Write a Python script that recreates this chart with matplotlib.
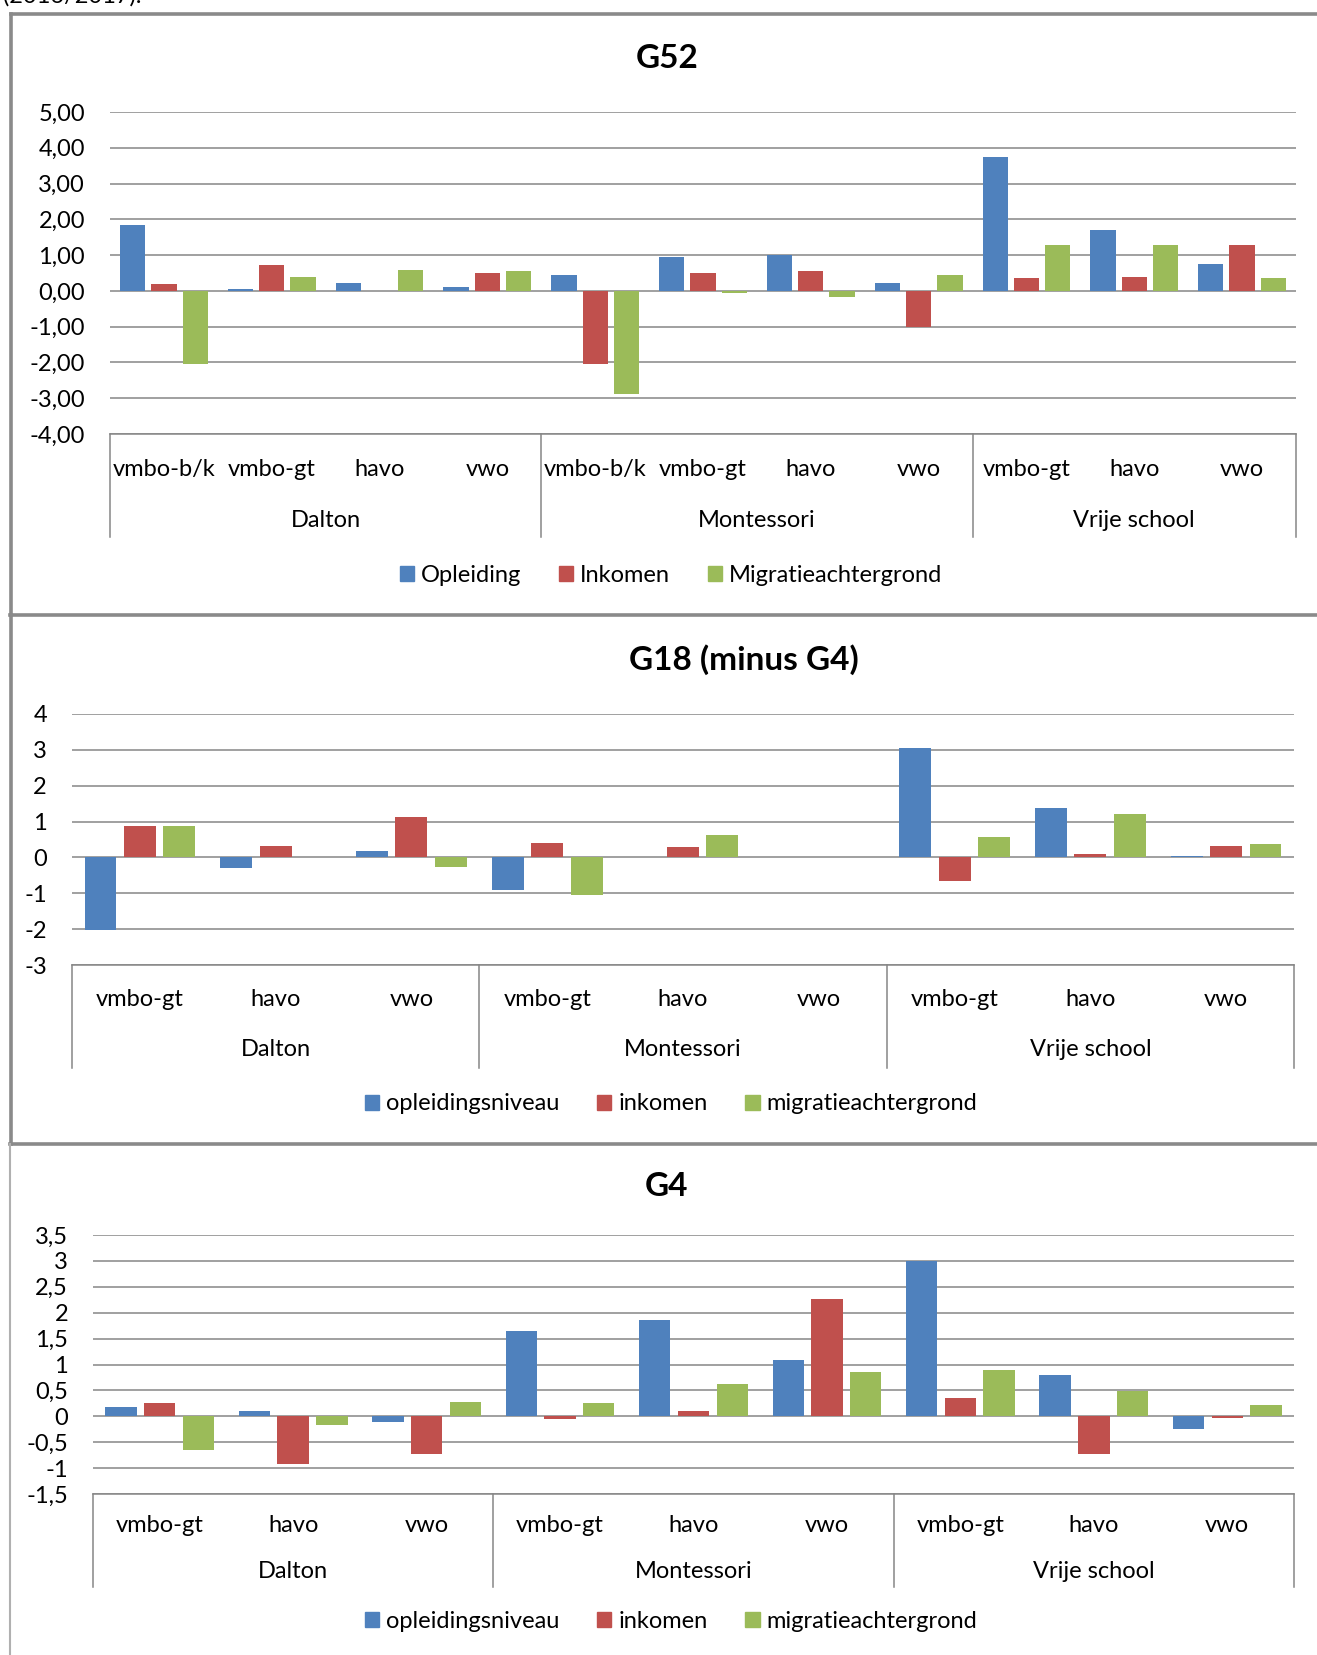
import numpy as np
import matplotlib
matplotlib.use("Agg")
import matplotlib.pyplot as plt
from matplotlib.lines import Line2D
from matplotlib.patches import Patch

plt.rcParams['font.family'] = ['Lato', 'DejaVu Sans']

# data
g52_niveaus = ["vmbo-b/k", "vmbo-gt", "havo", "vwo",
               "vmbo-b/k", "vmbo-gt", "havo", "vwo",
               "vmbo-gt", "havo", "vwo"]
g52_groepen = [("Dalton", 4), ("Montessori", 4), ("Vrije school", 3)]
g52_opleiding = [1.83, 0.04, 0.23, 0.12, 0.45, 0.95, 0.99, 0.23, 3.73, 1.70, 0.76]
g52_inkomen = [0.20, 0.73, 0.00, 0.49, -2.05, 0.49, 0.55, -1.00, 0.36, 0.40, 1.27]
g52_migratie = [-2.05, 0.40, 0.58, 0.55, -2.87, -0.07, -0.17, 0.45, 1.27, 1.29, 0.36]
g52_legend = ["Opleiding", "Inkomen", "Migratieachtergrond"]

niveaus_9 = ["vmbo-gt", "havo", "vwo"] * 3
groepen_9 = [("Dalton", 3), ("Montessori", 3), ("Vrije school", 3)]

g18_opleiding = [-2.02, -0.30, 0.19, -0.92, 0.00, 0.00, 3.04, 1.37, 0.04]
g18_inkomen = [0.87, 0.33, 1.14, 0.41, 0.30, 0.00, -0.65, 0.09, 0.33]
g18_migratie = [0.87, 0.00, -0.26, -1.06, 0.63, 0.00, 0.58, 1.21, 0.37]

g4_opleiding = [0.18, 0.10, -0.11, 1.65, 1.85, 1.09, 2.99, 0.79, -0.24]
g4_inkomen = [0.25, -0.92, -0.72, -0.06, 0.10, 2.26, 0.35, -0.72, -0.04]
g4_migratie = [-0.65, -0.16, 0.27, 0.25, 0.62, 0.86, 0.89, 0.48, 0.22]
klein_legend = ["opleidingsniveau", "inkomen", "migratieachtergrond"]

kleuren = ["#4F81BD", "#C0504D", "#9BBB59"]
grid_kleur = "#868686"

W, H = 1317, 1655
fig = plt.figure(figsize=(W / 100, H / 100), dpi=100)


def fx(px):
    return px / W


def fy(py):
    return 1 - py / H


def paneel(titel, title_xy, box, ylim, yticks, fmt, niveaus, groepen, reeksen,
           labels, tick_y, groep_y, box_bottom, legend_y):
    x0, y0, x1, y1 = box  # pixel box of the plot area (top = ymax)
    ax = fig.add_axes([fx(x0), fy(y1), fx(x1) - fx(x0), (y1 - y0) / H])
    n = len(niveaus)
    x = np.arange(n)
    for i, vals in enumerate(reeksen):
        ax.bar(x + (i - 1) * 0.29, vals, width=0.235, color=kleuren[i], linewidth=0)
    ax.set_xlim(-0.5, n - 0.5)
    ax.set_ylim(*ylim)
    ax.set_yticks(yticks)
    ax.set_yticklabels([fmt(v) for v in yticks])
    ax.tick_params(axis='y', length=0, pad=18, labelsize=17)
    ax.set_xticks([])
    ax.grid(axis='y', color=grid_kleur, linewidth=1.1)
    ax.set_axisbelow(True)
    for s in ax.spines.values():
        s.set_visible(False)

    # category box under the axis
    tr = ax.get_xaxis_transform()
    h = y1 - y0
    bb = -(box_bottom - y1) / h
    ty = -(tick_y - y1) / h
    gy = -(groep_y - y1) / h
    ax.plot([-0.5, n - 0.5], [0, 0], color=grid_kleur, lw=1.1, transform=tr, clip_on=False)
    grens = -0.5
    ax.plot([grens, grens], [0, bb], color=grid_kleur, lw=1.1, transform=tr, clip_on=False)
    for naam, k in groepen:
        ax.text(grens + k / 2, gy, naam, ha='center', va='center', fontsize=17, transform=tr)
        grens += k
        ax.plot([grens, grens], [0, bb], color=grid_kleur, lw=1.1, transform=tr, clip_on=False)
    for xi, lab in zip(x, niveaus):
        ax.text(xi, ty, lab, ha='center', va='center', fontsize=17, transform=tr)

    fig.text(fx(title_xy[0]), fy(title_xy[1]), titel, ha='center', va='center',
             fontsize=24, fontweight='bold')

    handles = [Patch(color=c) for c in kleuren]
    fig.legend(handles, labels, loc='center', bbox_to_anchor=(fx(671), fy(legend_y)),
               ncol=3, frameon=False, fontsize=17, handlelength=0.6, handleheight=0.6,
               handletextpad=0.3, columnspacing=1.6)
    return ax


paneel("G52", (667, 59), (110, 112, 1296, 434), (-4, 5), np.arange(-4, 6, 1),
       lambda v: f"{v:.2f}".replace(".", ","), g52_niveaus, g52_groepen,
       [g52_opleiding, g52_inkomen, g52_migratie], g52_legend, 469, 520, 537, 575)

paneel("G18 (minus G4)", (744, 660), (72, 714, 1294, 965), (-3, 4), np.arange(-3, 5, 1),
       lambda v: f"{v:g}", niveaus_9, groepen_9,
       [g18_opleiding, g18_inkomen, g18_migratie], klein_legend, 1000, 1050, 1068, 1104)

paneel("G4", (666, 1186), (93, 1235, 1294, 1494), (-1.5, 3.5), np.arange(-1.5, 4.0, 0.5),
       lambda v: f"{v:g}".replace(".", ","), niveaus_9, groepen_9,
       [g4_opleiding, g4_inkomen, g4_migratie], klein_legend, 1525, 1572, 1587, 1621)

# frames around the three charts
frame = dict(color="#8A8A8A", lw=2.6, transform=fig.transFigure)
fig.add_artist(Line2D([fx(11), 1.0], [fy(14), fy(14)], **frame))
fig.add_artist(Line2D([fx(10), 1.0], [fy(615), fy(615)], **frame))
fig.add_artist(Line2D([fx(10), 1.0], [fy(1144), fy(1144)], **frame))
fig.add_artist(Line2D([fx(11), fx(11)], [fy(14), fy(615)], **frame))
fig.add_artist(Line2D([fx(11), fx(11)], [fy(615), fy(1144)], **frame))
fig.add_artist(Line2D([fx(10), fx(10)], [fy(1144), 0.0], color="#B0B0B0", lw=1.5,
                      transform=fig.transFigure))

# text above the figure, cut off at the top like in the screenshot
fig.text(fx(3), fy(3), "(2016/2017).", ha='left', va='baseline', fontsize=17)

fig.savefig("out.png", dpi=100)
